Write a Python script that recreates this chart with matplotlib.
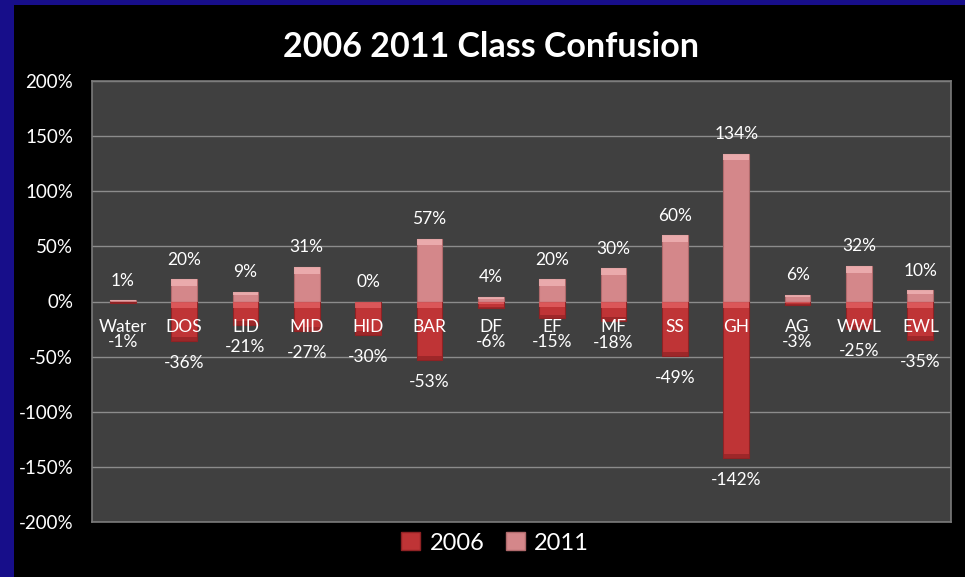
import matplotlib
matplotlib.use("Agg")
import matplotlib.pyplot as plt
from matplotlib.patches import Rectangle
import numpy as np

plt.rcParams['font.family'] = ['Lato', 'DejaVu Sans']

# ------------------------------------------------------------------
# data
# ------------------------------------------------------------------
classes = ["Water", "DOS", "LID", "MID", "HID", "BAR", "DF", "EF", "MF",
           "SS", "GH", "AG", "WWL", "EWL"]
vals_2006 = [-1, -36, -21, -27, -30, -53, -6, -15, -18, -49, -142, -3, -25, -35]
vals_2011 = [1, 20, 9, 31, 0, 57, 4, 20, 30, 60, 134, 6, 32, 10]
yticks = [-200, -150, -100, -50, 0, 50, 100, 150, 200]

C2006 = "#bf3436"
C2006_HI = "#e36163"
C2006_LO = "#8f2224"
C2011 = "#d4878a"
C2011_HI = "#f0b4b5"
C2011_LO = "#b06a6c"

fig = plt.figure(figsize=(9.65, 5.77), dpi=100)
fig.patch.set_facecolor("black")

# blue slide frame (top + left)
fig.patches.append(Rectangle((0, 0), 14 / 965, 1, transform=fig.transFigure,
                             facecolor="#170e8a", edgecolor="none", zorder=0))
fig.patches.append(Rectangle((0, 1 - 5 / 577), 1, 5 / 577, transform=fig.transFigure,
                             facecolor="#170e8a", edgecolor="none", zorder=0))

ax = fig.add_axes([92 / 965, 1 - 522 / 577, (951 - 92) / 965, (522 - 81) / 577])
ax.set_facecolor("#404040")
for s in ax.spines.values():
    s.set_color("#7a7a7a")
    s.set_linewidth(1.2)

x = np.arange(len(classes))
w = 0.42


def draw_bars(vals, base, hi, lo, shadow):
    ax.bar(x, vals, width=w, color=base, edgecolor=lo, linewidth=0.8, zorder=3)
    # bevel: lighter band on top, darker band on bottom
    for xi, v in zip(x, vals):
        if v == 0:
            continue
        top = max(v, 0)
        bot = min(v, 0)
        band = min(6.0, abs(v) * 0.35)
        ax.add_patch(Rectangle((xi - w / 2, top - band), w, band,
                               facecolor=hi, edgecolor="none", alpha=0.8, zorder=4))
        if shadow:
            ax.add_patch(Rectangle((xi - w / 2, bot), w, band * 0.6,
                                   facecolor=lo, edgecolor="none", alpha=0.7, zorder=4))


draw_bars(vals_2011, C2011, C2011_HI, C2011_LO, False)
draw_bars(vals_2006, C2006, C2006_HI, C2006_LO, True)

ax.set_xlim(-0.5, len(classes) - 0.5)
ax.set_ylim(-200, 200)
ax.set_yticks(yticks)
ax.set_yticklabels([f"{t}%" for t in yticks])
ax.set_xticks([])
ax.tick_params(axis="y", length=0, colors="white", labelsize=13.5, pad=13.5)
ax.yaxis.grid(True, color="#8c8c8c", linewidth=1.0, zorder=1)
ax.set_axisbelow(True)

# category names just below zero line
for xi, name in zip(x, classes):
    ax.text(xi, -23, name, ha="center", va="center", color="white",
            fontsize=12.5, zorder=6)

# data labels
for xi, v in zip(x, vals_2011):
    ax.text(xi, v + 18, f"{v}%", ha="center", va="center", color="white",
            fontsize=12.5, zorder=6)
for xi, v in zip(x, vals_2006):
    ax.text(xi, min(v - 20, -37), f"{v}%", ha="center", va="center",
            color="white", fontsize=12.5, zorder=6)

fig.text(491 / 965, 1 - 47 / 577, "2006 2011 Class Confusion", ha="center",
         va="center", color="white", fontsize=24.5, fontweight="bold")

# legend
h1 = Rectangle((0, 0), 1, 1, facecolor=C2006, edgecolor=C2006_LO)
h2 = Rectangle((0, 0), 1, 1, facecolor=C2011, edgecolor=C2011_LO)
leg = fig.legend([h1, h2], ["2006", "2011"], loc="center",
                 bbox_to_anchor=(495 / 965, 1 - 543 / 577), ncol=2,
                 frameon=False, fontsize=17, handlelength=0.8, handleheight=0.8,
                 handletextpad=0.4, columnspacing=0.9)
for t in leg.get_texts():
    t.set_color("white")

fig.savefig("out.png", dpi=100, facecolor=fig.get_facecolor())
